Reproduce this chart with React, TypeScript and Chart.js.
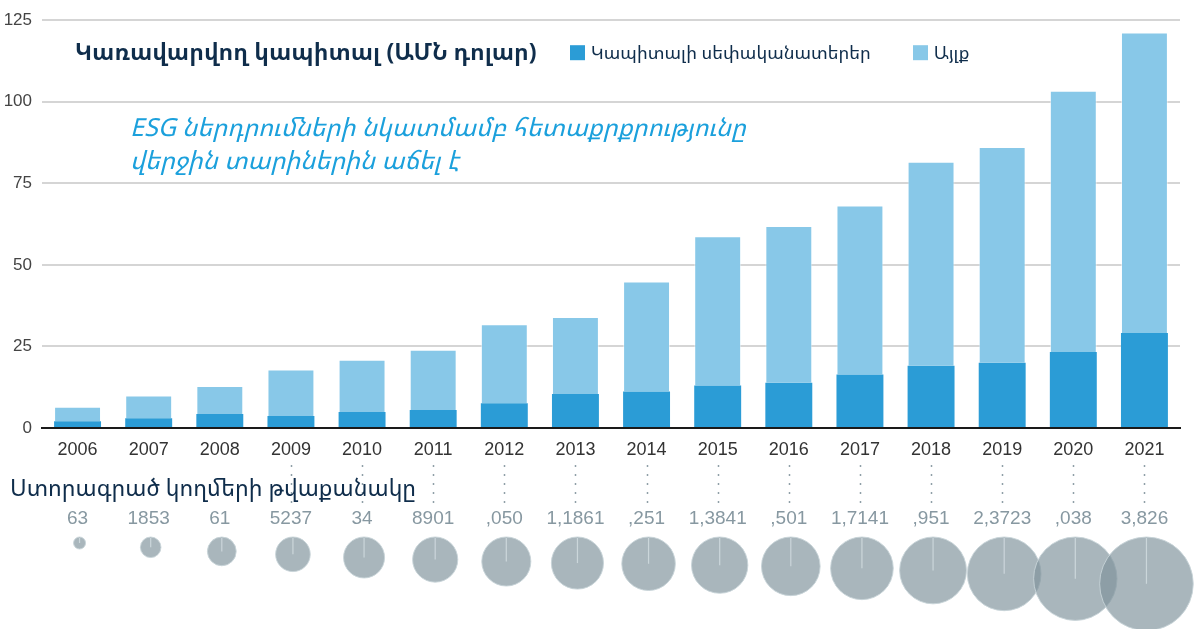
import React, { useEffect, useRef } from 'react';
import { Chart, registerables } from 'chart.js';

Chart.register(...registerables);

const years = ['2006', '2007', '2008', '2009', '2010', '2011', '2012', '2013', '2014', '2015', '2016', '2017', '2018', '2019', '2020', '2021'];
const ownersValues = [2.1, 3.0, 4.3, 3.7, 4.9, 5.5, 7.6, 10.4, 11.2, 13.0, 13.9, 16.4, 19.1, 20.0, 23.3, 29.1];
const otherValues = [4.4, 7.0, 8.6, 14.2, 16.0, 18.5, 24.2, 23.6, 33.7, 45.8, 48.0, 51.8, 62.5, 66.1, 80.1, 92.1];
const signatoryCounts = [63, 185, 361, 523, 734, 890, 1050, 1186, 1251, 1384, 1501, 1714, 1951, 2372, 3038, 3826];
const signatoryLabels = ['63', '1853', '61', '5237', '34', '8901', ',050', '1,1861', ',251', '1,3841', ',501', '1,7141', ',951', '2,3723', ',038', '3,826'];
const dottedFromIndex = 3;
const yTicks = [0, 25, 50, 75, 100, 125];

const titleText = 'Կառավարվող կապիտալ (ԱՄՆ դոլար)';
const ownersLabel = 'Կապիտալի սեփականատերեր';
const otherLabel = 'Այլք';
const noteLine1 = 'ESG ներդրումների նկատմամբ հետաքրքրությունը';
const noteLine2 = 'վերջին տարիներին աճել է';
const bubbleTitle = 'Ստորագրած կողմերի թվաքանակը';

const NUM_FONT = '"Liberation Sans Narrow", "Liberation Sans", Arial, sans-serif';
const ARM_FONT = '"Noto Sans Armenian", "DejaVu Sans", sans-serif';
const OWNERS_COLOR = '#2b9cd6';
const OTHER_COLOR = '#88c8e8';
const NAVY = '#0f2d4b';

const bubblePlugin = {
  id: 'signatoryBubbles',
  afterDraw(chart: any) {
    const ctx = chart.ctx;
    const xs = chart.scales.x;
    const base = chart.chartArea.bottom;
    const maxCount = Math.max(...signatoryCounts);
    const rMax = 46.8;
    ctx.save();
    // dotted connectors
    ctx.strokeStyle = '#8f9fa7';
    ctx.lineWidth = 1.5;
    ctx.setLineDash([2, 7]);
    for (let i = dottedFromIndex; i < years.length; i++) {
      const cx = Math.round(xs.getPixelForValue(i)) + 0.5;
      ctx.beginPath();
      ctx.moveTo(cx, base + 37);
      ctx.lineTo(cx, base + 75);
      ctx.stroke();
    }
    ctx.setLineDash([]);
    // number labels
    ctx.fillStyle = '#8798a1';
    ctx.font = `19px ${NUM_FONT}`;
    ctx.textAlign = 'center';
    ctx.textBaseline = 'middle';
    for (let i = 0; i < years.length; i++) {
      ctx.fillText(signatoryLabels[i], xs.getPixelForValue(i), base + 91);
    }
    // circles
    const top = base + 109;
    for (let i = 0; i < years.length; i++) {
      const r = rMax * Math.sqrt(signatoryCounts[i] / maxCount);
      const cx = xs.getPixelForValue(i) + 2;
      const cy = top + r;
      ctx.beginPath();
      ctx.arc(cx, cy, r, 0, Math.PI * 2);
      ctx.fillStyle = 'rgba(128,148,156,0.68)';
      ctx.fill();
      ctx.lineWidth = 1;
      ctx.strokeStyle = 'rgba(200,212,216,0.9)';
      ctx.stroke();
      ctx.beginPath();
      ctx.moveTo(cx, top + 1);
      ctx.lineTo(cx, cy);
      ctx.strokeStyle = 'rgba(205,216,220,0.95)';
      ctx.lineWidth = 1.2;
      ctx.stroke();
    }
    ctx.restore();
  },
};

export default function App() {
  const ref = useRef<HTMLCanvasElement>(null);
  useEffect(() => {
    const chart = new Chart(ref.current as HTMLCanvasElement, {
      type: 'bar',
      data: {
        labels: years,
        datasets: [
          {
            label: ownersLabel,
            data: ownersValues,
            backgroundColor: OWNERS_COLOR,
            barPercentage: 0.66,
            categoryPercentage: 1,
          },
          {
            label: otherLabel,
            data: otherValues,
            backgroundColor: OTHER_COLOR,
            borderColor: 'rgba(255,255,255,0.5)',
            borderWidth: { top: 1, left: 1, right: 1, bottom: 0 },
            barPercentage: 0.66,
            categoryPercentage: 1,
          },
        ],
      },
      options: {
        responsive: false,
        animation: false,
        layout: { padding: { top: 16, right: 20, bottom: 161, left: 0 } },
        plugins: { legend: { display: false }, tooltip: { enabled: false } },
        scales: {
          x: {
            stacked: true,
            grid: { display: false, drawTicks: false },
            border: { display: true, color: '#1a1a1a', width: 2 },
            ticks: { color: '#333333', font: { family: NUM_FONT, size: 18 }, padding: 11, maxRotation: 0 },
            afterFit: (s: any) => { s.height = 40; },
          },
          y: {
            stacked: true,
            min: 0,
            max: 125,
            afterBuildTicks: (s: any) => { s.ticks = yTicks.map((v) => ({ value: v })); },
            grid: { color: '#d5d5d5', lineWidth: 2, drawTicks: false },
            border: { display: false },
            ticks: { color: '#444444', font: { family: NUM_FONT, size: 17 }, padding: 10 },
            afterFit: (s: any) => { s.width = 42; },
          },
        },
      },
      plugins: [bubblePlugin],
    });
    return () => chart.destroy();
  }, []);

  const abs = (left: number, top: number, extra: any) => ({
    position: 'absolute' as const,
    left,
    top,
    transform: 'translateY(-50%)',
    whiteSpace: 'nowrap' as const,
    lineHeight: 1.2,
    ...extra,
  });

  return (
    <div style={{ position: 'fixed', left: 0, top: 0, width: 1200, height: 629, background: '#fff', overflow: 'hidden' }}>
      <canvas ref={ref} width={1200} height={629} style={{ position: 'absolute', left: 0, top: 0 }} />
      <div style={abs(75, 52, { fontFamily: ARM_FONT, fontWeight: 'bold', fontSize: 23, color: NAVY })}>{titleText}</div>
      <div style={abs(570, 53, { display: 'flex', alignItems: 'center', fontFamily: ARM_FONT, fontSize: 18, color: NAVY })}>
        <span style={{ display: 'inline-block', width: 15, height: 15, background: OWNERS_COLOR, marginRight: 6 }} />
        <span>{ownersLabel}</span>
        <span style={{ display: 'inline-block', width: 15, height: 15, background: OTHER_COLOR, marginLeft: 42, marginRight: 6 }} />
        <span>{otherLabel}</span>
      </div>
      <div style={abs(130, 143, { fontFamily: ARM_FONT, fontStyle: 'italic', fontSize: 25, color: '#1ba0dc', lineHeight: '33px' })}>
        {noteLine1}
        <br />
        {noteLine2}
      </div>
      <div style={abs(10, 488, { fontFamily: ARM_FONT, fontSize: 23, color: NAVY })}>{bubbleTitle}</div>
    </div>
  );
}
